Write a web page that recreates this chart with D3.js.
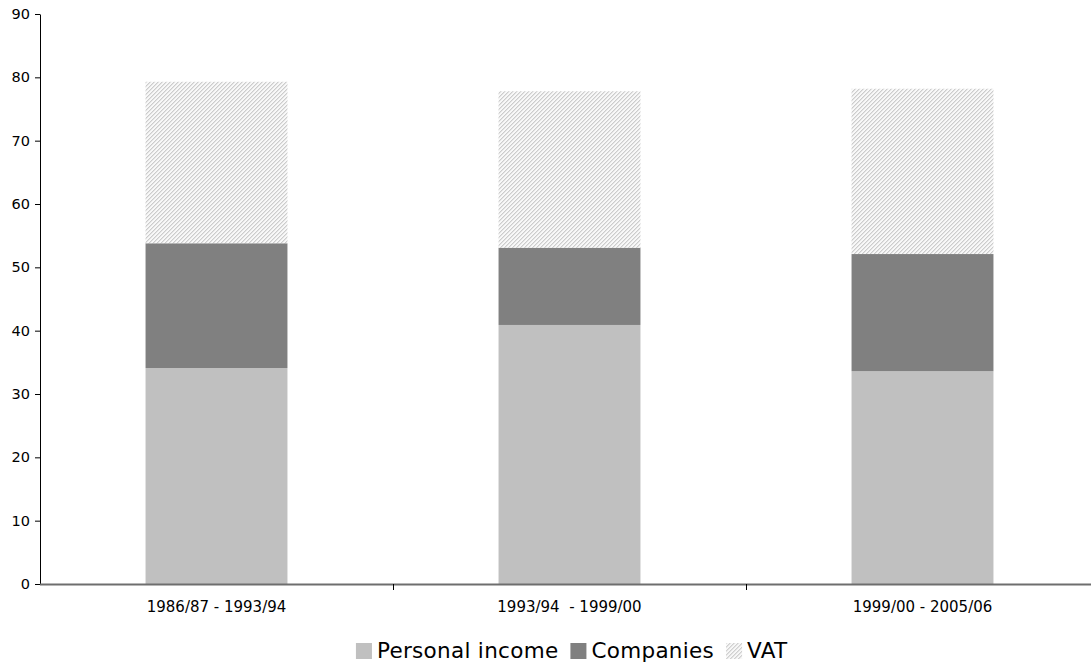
<!DOCTYPE html>
<html>
<head>
<meta charset="utf-8">
<script src="https://cdn.jsdelivr.net/npm/d3@7"></script>
<style>
  html, body { margin: 0; padding: 0; background: #fff; }
  svg { display: block; font-family: Verdana, "DejaVu Sans", sans-serif; }
</style>
</head>
<body>
<svg id="chart" width="1091" height="663"></svg>
<script>
// Revenue shares by period (stacked)
const categories = ["1986/87 - 1993/94", "1993/94  - 1999/00", "1999/00 - 2005/06"];
const seriesNames = ["Personal income", "Companies", "VAT"];
const personalIncome = [34.1, 40.9, 33.6];
const companies = [19.7, 12.2, 18.5];
const vat = [25.5, 24.7, 26.1];
const yTicks = [0, 10, 20, 30, 40, 50, 60, 70, 80, 90];

const svg = d3.select("#chart");
const plotLeft = 40, plotRight = 1099, plotTop = 14, plotBottom = 584;

const rows = categories.map((c, i) => ({
  cat: c,
  "Personal income": personalIncome[i],
  "Companies": companies[i],
  "VAT": vat[i]
}));
const stacked = d3.stack().keys(seriesNames)(rows);

const x = d3.scaleBand().domain(categories).range([plotLeft, plotRight]).paddingInner(0).paddingOuter(0);
const y = d3.scaleLinear().domain([0, 90]).range([plotBottom, plotTop]);

// Fine diagonal hatch for VAT
const defs = svg.append("defs");
const pat = defs.append("pattern")
  .attr("id", "hatch").attr("patternUnits", "userSpaceOnUse")
  .attr("width", 4).attr("height", 4);
pat.append("rect").attr("width", 4).attr("height", 4).attr("fill", "#f8f8f8");
[[0,3],[1,2],[2,1],[3,0]].forEach(([px, py]) => {
  pat.append("rect").attr("x", px).attr("y", py).attr("width", 1).attr("height", 1).attr("fill", "#cccccc");
});
[[1,3],[2,2],[3,1],[0,0]].forEach(([px, py]) => {
  pat.append("rect").attr("x", px).attr("y", py).attr("width", 1).attr("height", 1).attr("fill", "#e4e4e4");
});

const fills = { "Personal income": "#c0c0c0", "Companies": "#808080", "VAT": "url(#hatch)" };
const barFrac = 0.402;
const bw = x.bandwidth() * barFrac;

svg.append("g").selectAll("g").data(stacked).join("g")
  .attr("fill", d => fills[d.key])
  .selectAll("rect").data(d => d).join("rect")
  .attr("x", d => x(d.data.cat) + (x.bandwidth() - bw) / 2)
  .attr("width", bw)
  .attr("y", d => y(d[1]))
  .attr("height", d => y(d[0]) - y(d[1]));

// Y axis
const yAxis = d3.axisLeft(y).tickValues(yTicks).tickSize(5).tickSizeOuter(0).tickPadding(5);
const gy = svg.append("g").attr("transform", `translate(${plotLeft},0)`).call(yAxis);
gy.select(".domain").attr("stroke", "#000");
gy.selectAll(".tick line").attr("stroke", "#000");
gy.selectAll("text").attr("font-size", 14.5).attr("fill", "#000")
  .attr("font-family", "Verdana, 'DejaVu Sans', sans-serif");

// X axis baseline and category separators
const gx = svg.append("g");
gx.append("line").attr("x1", plotLeft).attr("x2", plotRight).attr("y1", plotBottom + 0.5).attr("y2", plotBottom + 0.5)
  .attr("stroke", "#6e6e6e").attr("stroke-width", 2);
categories.slice(1).forEach(c => {
  gx.append("line").attr("x1", Math.round(x(c)) + 0.5).attr("x2", Math.round(x(c)) + 0.5)
    .attr("y1", plotBottom).attr("y2", plotBottom + 6).attr("stroke", "#000");
});
gx.selectAll("text.cat").data(categories).join("text").attr("class", "cat")
  .attr("x", d => x(d) + x.bandwidth() / 2)
  .attr("y", 612)
  .attr("text-anchor", "middle")
  .attr("font-size", 15)
  .attr("fill", "#000")
  .style("white-space", "pre")
  .text(d => d);

// Legend
const legend = svg.append("g");
const items = legend.selectAll("g").data(seriesNames).join("g");
items.append("rect").attr("y", 0).attr("width", 16).attr("height", 16).attr("fill", d => fills[d]);
items.append("text").attr("x", 21).attr("y", 15).attr("font-size", 21.5)
  .attr("letter-spacing", 0.3).attr("fill", "#000").text(d => d);
let cx = 0;
const gap = 12;
items.each(function () {
  const w = this.getBBox().width;
  d3.select(this).attr("transform", `translate(${cx},643)`);
  cx += w + gap;
});
const totalW = cx - gap;
legend.attr("transform", `translate(${(359 + 785) / 2 - totalW / 2},0)`);
</script>
</body>
</html>
